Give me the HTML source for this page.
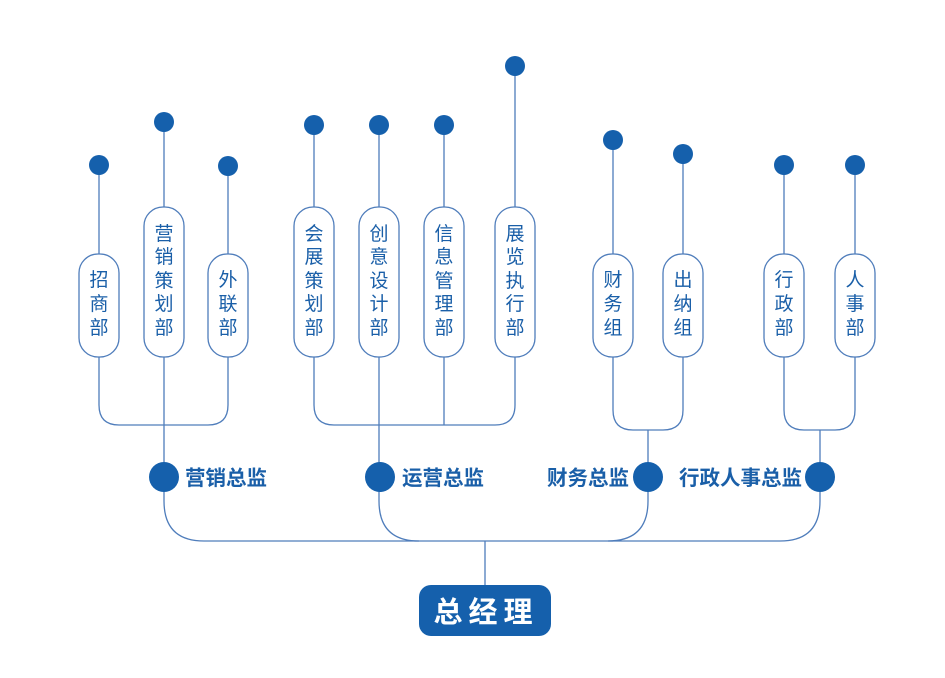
<!DOCTYPE html>
<html><head><meta charset="utf-8"><style>
html,body{margin:0;padding:0;background:#fff;}
svg{display:block}
text{font-family:"Liberation Sans","Noto Sans CJK SC",sans-serif;}
</style></head><body>
<svg width="945" height="678" viewBox="0 0 945 678" xmlns="http://www.w3.org/2000/svg">
<g fill="none" stroke="#4f7dbb" stroke-width="1.3">
<line x1="99" y1="165" x2="99" y2="254"/>
<line x1="164" y1="122" x2="164" y2="207"/>
<line x1="228" y1="166" x2="228" y2="254"/>
<line x1="314" y1="125" x2="314" y2="207"/>
<line x1="379" y1="125" x2="379" y2="207"/>
<line x1="444" y1="125" x2="444" y2="207"/>
<line x1="515" y1="66" x2="515" y2="207"/>
<line x1="613" y1="140" x2="613" y2="254"/>
<line x1="683" y1="154" x2="683" y2="254"/>
<line x1="784" y1="165" x2="784" y2="254"/>
<line x1="855" y1="165" x2="855" y2="254"/>
<path d="M99 357 V405 Q99 425 119 425 H208 Q228 425 228 405 V357"/>
<line x1="164" y1="357" x2="164" y2="477"/>
<path d="M314 357 V405 Q314 425 334 425 H495 Q515 425 515 405 V357"/>
<path d="M444 357 V425"/>
<line x1="379" y1="357" x2="379" y2="477"/>
<path d="M613 357 V410 Q613 430 633 430 H663 Q683 430 683 410 V357"/>
<line x1="648" y1="430" x2="648" y2="477"/>
<path d="M784 357 V410 Q784 430 804 430 H835 Q855 430 855 410 V357"/>
<line x1="820" y1="430" x2="820" y2="477"/>
<path d="M164 477 V501 Q164 541 204 541 H780 Q820 541 820 501 V477"/>
<path d="M379 477 V501 Q379 541 419 541"/>
<path d="M648 477 V501 Q648 541 608 541"/>
<line x1="485" y1="541" x2="485" y2="586"/>
</g>
<g fill="#1560ac">
<circle cx="99" cy="165" r="10"/><circle cx="164" cy="122" r="10"/><circle cx="228" cy="166" r="10"/>
<circle cx="314" cy="125" r="10"/><circle cx="379" cy="125" r="10"/><circle cx="444" cy="125" r="10"/>
<circle cx="515" cy="66" r="10"/><circle cx="613" cy="140" r="10"/><circle cx="683" cy="154" r="10"/>
<circle cx="784" cy="165" r="10"/><circle cx="855" cy="165" r="10"/>
<circle cx="164" cy="477" r="15"/><circle cx="380" cy="477" r="15"/><circle cx="648" cy="477" r="15"/><circle cx="820" cy="477" r="15"/>
<rect x="419" y="585" width="132" height="51" rx="12"/>
</g>
<g fill="#fff" stroke="#4f7dbb" stroke-width="1.3">
<rect x="79" y="254" width="40" height="103" rx="19"/>
<rect x="144" y="207" width="40" height="150" rx="19"/>
<rect x="208" y="254" width="40" height="103" rx="19"/>
<rect x="294" y="207" width="40" height="150" rx="19"/>
<rect x="359" y="207" width="40" height="150" rx="19"/>
<rect x="424" y="207" width="40" height="150" rx="19"/>
<rect x="495" y="207" width="40" height="150" rx="19"/>
<rect x="593" y="254" width="40" height="103" rx="19"/>
<rect x="663" y="254" width="40" height="103" rx="19"/>
<rect x="764" y="254" width="40" height="103" rx="19"/>
<rect x="835" y="254" width="40" height="103" rx="19"/>
</g>
<g fill="#1a5fa8" font-size="19" text-anchor="middle">
<text x="99" y="286">招</text><text x="99" y="310">商</text><text x="99" y="334">部</text>
<text x="164" y="240">营</text><text x="164" y="263">销</text><text x="164" y="287">策</text><text x="164" y="310">划</text><text x="164" y="334">部</text>
<text x="228" y="286">外</text><text x="228" y="310">联</text><text x="228" y="334">部</text>
<text x="314" y="240">会</text><text x="314" y="263">展</text><text x="314" y="287">策</text><text x="314" y="310">划</text><text x="314" y="334">部</text>
<text x="379" y="240">创</text><text x="379" y="263">意</text><text x="379" y="287">设</text><text x="379" y="310">计</text><text x="379" y="334">部</text>
<text x="444" y="240">信</text><text x="444" y="263">息</text><text x="444" y="287">管</text><text x="444" y="310">理</text><text x="444" y="334">部</text>
<text x="515" y="240">展</text><text x="515" y="263">览</text><text x="515" y="287">执</text><text x="515" y="310">行</text><text x="515" y="334">部</text>
<text x="613" y="286">财</text><text x="613" y="310">务</text><text x="613" y="334">组</text>
<text x="683" y="286">出</text><text x="683" y="310">纳</text><text x="683" y="334">组</text>
<text x="784" y="286">行</text><text x="784" y="310">政</text><text x="784" y="334">部</text>
<text x="855" y="286">人</text><text x="855" y="310">事</text><text x="855" y="334">部</text>
</g>
<g fill="#1a5fa8" font-size="20.5" font-weight="bold">
<text x="185" y="485">营销总监</text>
<text x="402" y="485">运营总监</text>
<text x="629" y="485" text-anchor="end">财务总监</text>
<text x="802" y="485" text-anchor="end">行政人事总监</text>
</g>
<text x="486" y="622" fill="#fff" font-size="29" font-weight="bold" text-anchor="middle" letter-spacing="6">总经理</text>
</svg>
</body></html>
